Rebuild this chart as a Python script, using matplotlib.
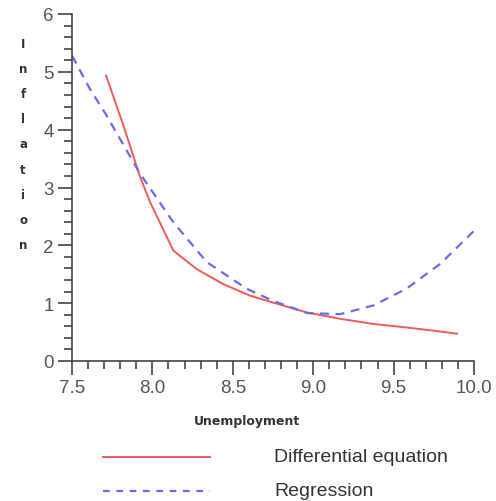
import matplotlib
matplotlib.use("Agg")
import matplotlib.pyplot as plt
from matplotlib.ticker import MultipleLocator
from matplotlib.lines import Line2D

# Data
de_x = [7.71, 7.82, 7.92, 7.985, 8.13, 8.275, 8.44, 8.607, 8.75, 8.96, 9.167, 9.374, 9.58, 9.79, 9.90]
de_y = [4.95, 4.07, 3.21, 2.75, 1.91, 1.59, 1.33, 1.13, 1.01, 0.84, 0.73, 0.64, 0.58, 0.51, 0.47]

reg_x = [7.50, 7.61, 7.716, 7.923, 8.13, 8.338, 8.586, 8.75, 8.96, 9.167, 9.374, 9.58, 9.79, 10.0]
reg_y = [5.28, 4.71, 4.24, 3.24, 2.40, 1.71, 1.25, 1.04, 0.83, 0.81, 0.96, 1.25, 1.68, 2.25]

xticks = [7.5, 8.0, 8.5, 9.0, 9.5, 10.0]
xtick_labels = ["7.5", "8.0", "8.5", "9.0", "9.5", "10.0"]
yticks = [0, 1, 2, 3, 4, 5, 6]

red = "#f05a5a"
blue = "#6a6ae8"
gray = "#555555"

plt.rcParams['font.family'] = ['Liberation Sans', 'DejaVu Sans']

fig = plt.figure(figsize=(4.96, 5.02), dpi=100)
ax = fig.add_axes([72/496, 1-362/502, (474-72)/496, (362-15)/502])

ax.plot(de_x, de_y, color=red, lw=1.4, solid_capstyle='butt')
ax.plot(reg_x, reg_y, color=blue, lw=1.6, ls=(0, (4, 3)))

ax.set_xlim(7.5, 10.0)
ax.set_ylim(0, 6)
ax.set_xticks(xticks)
ax.set_xticklabels(xtick_labels)
ax.set_yticks(yticks)
ax.xaxis.set_minor_locator(MultipleLocator(0.1))
ax.yaxis.set_minor_locator(MultipleLocator(0.2))

for s in ["top", "right"]:
    ax.spines[s].set_visible(False)
for s in ["left", "bottom"]:
    ax.spines[s].set_color("#444444")
    ax.spines[s].set_linewidth(1.2)

ax.tick_params(which='major', length=10, width=1.2, color="#444444", labelsize=13.5, labelcolor=gray, pad=3)
ax.tick_params(which='minor', length=6, width=1.2, color="#444444")

# stacked vertical y label
fig.text(23/496, 1-145/502, "\n".join("Inflation"), ha='center', va='center',
         fontsize=8.5, fontweight='bold', color="#333333", linespacing=2.22,
         family='DejaVu Sans')

fig.text(247/496, 1-421/502, "Unemployment", ha='center', va='center',
         fontsize=9, fontweight='bold', color="#333333", family='DejaVu Sans')

# legend drawn manually
leg_ax = fig.add_axes([0, 0, 1, 1], facecolor='none')
leg_ax.set_xlim(0, 496)
leg_ax.set_ylim(502, 0)
leg_ax.axis('off')
leg_ax.add_line(Line2D([103, 210], [458, 458], color=red, lw=1.4))
leg_ax.add_line(Line2D([103, 210], [492, 492], color=blue, lw=1.6, ls=(0, (3, 3))))
leg_ax.text(274, 458, "Differential equation", ha='left', va='center', fontsize=14, color="#333333")
leg_ax.text(274, 492, "Regression", ha='left', va='center', fontsize=14, color="#333333")

fig.savefig("out.png", dpi=100)
